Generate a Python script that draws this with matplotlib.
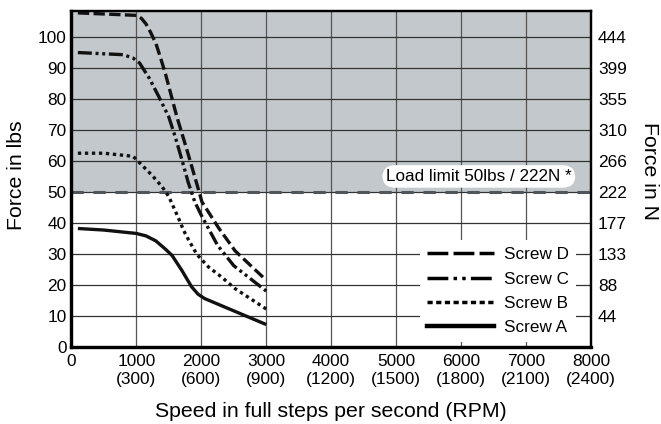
import matplotlib
matplotlib.use("Agg")
import matplotlib.pyplot as plt
from matplotlib.lines import Line2D

plt.rcParams['font.family'] = ['Liberation Sans', 'DejaVu Sans']

# ---- data (speed in full steps per second, force in lbs) ----
x_a = [100, 500, 1000, 1150, 1300, 1450, 1550, 1700, 1850, 1950, 2050, 2400, 3000]
y_a = [38.2, 37.7, 36.6, 35.8, 34.2, 31.5, 29.5, 24.7, 19.4, 17.0, 15.6, 12.5, 7.2]

x_b = [100, 500, 950, 1060, 1240, 1400, 1500, 1650, 1730, 1800, 1900, 1960, 2110, 2320, 2520, 3000]
y_b = [62.5, 62.5, 61.5, 59.2, 55.4, 51.6, 48.5, 41.5, 37.5, 34.7, 31.0, 29.2, 25.8, 22.4, 18.8, 12.2]

x_c = [100, 800, 950, 1050, 1200, 1350, 1500, 1600, 1700, 1800, 1900, 2000, 2250, 2500, 3000]
y_c = [95.0, 94.3, 93.2, 91.6, 86.7, 80.6, 74.2, 67.7, 60.5, 53.0, 46.8, 42.5, 32.8, 26.2, 18.0]

x_d = [100, 1000, 1080, 1150, 1220, 1300, 1370, 1450, 1625, 1780, 1930, 2010, 2270, 2520, 3000]
y_d = [107.8, 107.0, 106.0, 104.2, 101.5, 98.0, 93.5, 88.0, 74.2, 63.5, 52.7, 46.8, 38.3, 31.0, 21.5]

load_limit = 50
x_ticks = [0, 1000, 2000, 3000, 4000, 5000, 6000, 7000, 8000]
x_tick_labels = ["0", "1000\n(300)", "2000\n(600)", "3000\n(900)", "4000\n(1200)",
                 "5000\n(1500)", "6000\n(1800)", "7000\n(2100)", "8000\n(2400)"]
y_ticks = [0, 10, 20, 30, 40, 50, 60, 70, 80, 90, 100]
yr_ticks = [10, 20, 30, 40, 50, 60, 70, 80, 90, 100]
yr_labels = ["44", "88", "133", "177", "222", "266", "310", "355", "399", "444"]
series_names = ["Screw D", "Screw C", "Screw B", "Screw A"]

# ---- figure ----
fig = plt.figure(figsize=(6.61, 4.24), dpi=100)
ax = fig.add_axes([0.108, 0.182, 0.786, 0.792])
ax.set_xlim(0, 8000)
ax.set_ylim(0, 108.4)
ax.set_axisbelow(True)

ax.axhspan(load_limit, 108.4, color='#c2c8cb', zorder=0.2, lw=0)
ax.grid(True, axis='x', color='#555555', lw=0.9)
ax.grid(True, axis='y', color='#333333', lw=0.9)
ax.axhline(load_limit, color='#50565a', lw=2.2, dashes=(4.0, 3.2), zorder=1.5)

lw = 2.4
common = dict(color='#111111', lw=lw, zorder=3, solid_joinstyle='round', dash_joinstyle='round')
ax.plot(x_d, y_d, dashes=(3.4, 1.3), **common)
ax.plot(x_c, y_c, dashes=(4.2, 1.1, 0.9, 1.1, 0.9, 1.1), **common)
ax.plot(x_b, y_b, dashes=(1.0, 1.1), **common)
ax.plot(x_a, y_a, solid_capstyle='butt', **common)

ax.text(6274, 55, "Load limit 50lbs / 222N *", ha='center', va='center', fontsize=12.3,
        zorder=4, bbox=dict(boxstyle='round,pad=0.22,rounding_size=0.75', fc='white', ec='none'))

handles = [
    Line2D([], [], color='black', lw=2.5, dashes=(6, 1.5)),
    Line2D([], [], color='black', lw=2.5, dashes=(6, 1.5, 1, 1.5, 1, 1.5)),
    Line2D([], [], color='black', lw=2.5, dashes=(1.5, 1.0)),
    Line2D([], [], color='black', lw=3.2),
]
leg = ax.legend(handles, series_names, loc='lower right', bbox_to_anchor=(0.971, 0.014),
                fontsize=12.3, frameon=True, fancybox=False, framealpha=1, edgecolor='none',
                facecolor='white', handlelength=3.9, handletextpad=0.6, labelspacing=0.55,
                borderpad=0.4, borderaxespad=0)
leg.set_zorder(5)

ax.set_xticks(x_ticks)
ax.set_xticklabels(x_tick_labels, fontsize=12.4)
ax.set_yticks(y_ticks)
ax.set_yticklabels([str(v) for v in y_ticks], fontsize=12.4)
ax.tick_params(axis='both', length=0)
ax.tick_params(axis='y', pad=3.6)
ax.tick_params(axis='x', pad=5.5)

axr = ax.twinx()
axr.set_ylim(ax.get_ylim())
axr.set_yticks(yr_ticks)
axr.set_yticklabels(yr_labels, fontsize=12.4)
axr.tick_params(axis='y', length=0, pad=5)

for a in (ax, axr):
    for s in ('left', 'bottom'):
        a.spines[s].set_linewidth(2.3)
    for s in ('top', 'right'):
        a.spines[s].set_linewidth(1.6)
    for s in a.spines.values():
        s.set_color('black')

fig.text(0.0245, 0.587, "Force in lbs", rotation=90, ha='center', va='center', fontsize=15.3)
fig.text(0.983, 0.597, "Force in N", rotation=270, ha='center', va='center', fontsize=15.3)
fig.text(0.501, 0.029, "Speed in full steps per second (RPM)", ha='center', va='center', fontsize=15.3)

fig.savefig("out.png", dpi=100)
